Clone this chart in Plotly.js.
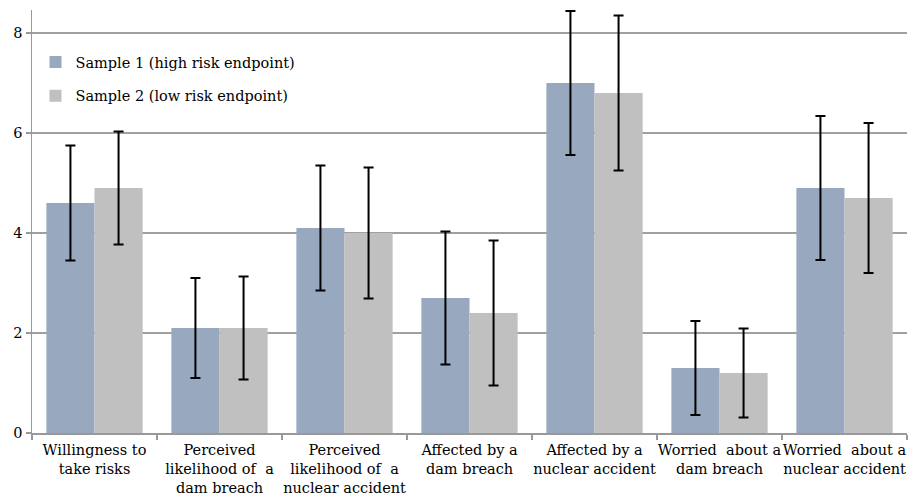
<!DOCTYPE html>
<html>
<head>
<meta charset="utf-8">
<script src="https://cdn.plot.ly/plotly-3.0.1.min.js"></script>
<style>html,body{margin:0;padding:0;background:#fff;}#chart{width:910px;height:498px;}</style>
</head>
<body>
<div id="chart"></div>
<script>
var categories = [
  "Willingness to<br>take risks",
  "Perceived<br>likelihood of  a<br>dam breach",
  "Perceived<br>likelihood of  a<br>nuclear accident",
  "Affected by a<br>dam breach",
  "Affected by a<br>nuclear accident",
  "Worried  about a<br>dam breach",
  "Worried  about a<br>nuclear accident"
];
var sample1Name = "Sample 1 (high risk endpoint)";
var sample2Name = "Sample 2 (low risk endpoint)";
var sample1Values = [4.6, 2.1, 4.1, 2.7, 7.0, 1.3, 4.9];
var sample1Errors = [1.15, 1.0, 1.25, 1.33, 1.44, 0.94, 1.44];
var sample2Values = [4.9, 2.1, 4.0, 2.4, 6.8, 1.2, 4.7];
var sample2Errors = [1.13, 1.03, 1.31, 1.45, 1.55, 0.89, 1.5];
var yTicks = [0, 2, 4, 6, 8];

var font = "'DejaVu Serif', 'Liberation Serif', serif";

var traces = [
  {
    type: "bar", name: sample1Name, x: categories, y: sample1Values,
    marker: {color: "#98a8bf"}, legendgroup: "a",
    error_y: {type: "data", array: sample1Errors, visible: true, color: "#000", thickness: 2, width: 5}
  },
  {
    type: "bar", name: sample2Name, x: categories, y: sample2Values,
    marker: {color: "#c0c0c0"}, legendgroup: "b",
    error_y: {type: "data", array: sample2Errors, visible: true, color: "#000", thickness: 2, width: 5}
  }
];

var layout = {
  width: 910, height: 498,
  margin: {l: 32, r: 3, t: 10, b: 65},
  paper_bgcolor: "#fff", plot_bgcolor: "#fff",
  font: {family: font, size: 14.5, color: "#000"},
  barmode: "group", bargap: 0.23, bargroupgap: 0,
  showlegend: true,
  legend: {
    x: 0.004, y: 0.915, xanchor: "left", yanchor: "top",
    bgcolor: "rgba(0,0,0,0)", traceorder: "grouped", tracegroupgap: 12,
    font: {family: font, size: 14.5, color: "#000"}
  },
  xaxis: {
    type: "category", showline: true, linecolor: "#999", linewidth: 1.5,
    ticks: "outside", tickson: "boundaries", ticklen: 5, tickcolor: "#999", tickwidth: 1.5,
    showgrid: false, zeroline: false, tickangle: 0, automargin: false, ticklabelstandoff: 3,
    tickfont: {family: font, size: 14.5, color: "#000"}
  },
  yaxis: {
    range: [0, 8.46], tickvals: yTicks, ticktext: yTicks.map(String),
    showline: true, linecolor: "#999", linewidth: 1.5,
    ticks: "outside", ticklen: 5, tickcolor: "#999", tickwidth: 1.5,
    showgrid: true, gridcolor: "#a0a0a0", gridwidth: 1.5, zeroline: false,
    tickfont: {family: font, size: 14.5, color: "#000"}
  }
};

Plotly.newPlot("chart", traces, layout, {displayModeBar: false, staticPlot: true});
</script>
</body>
</html>
